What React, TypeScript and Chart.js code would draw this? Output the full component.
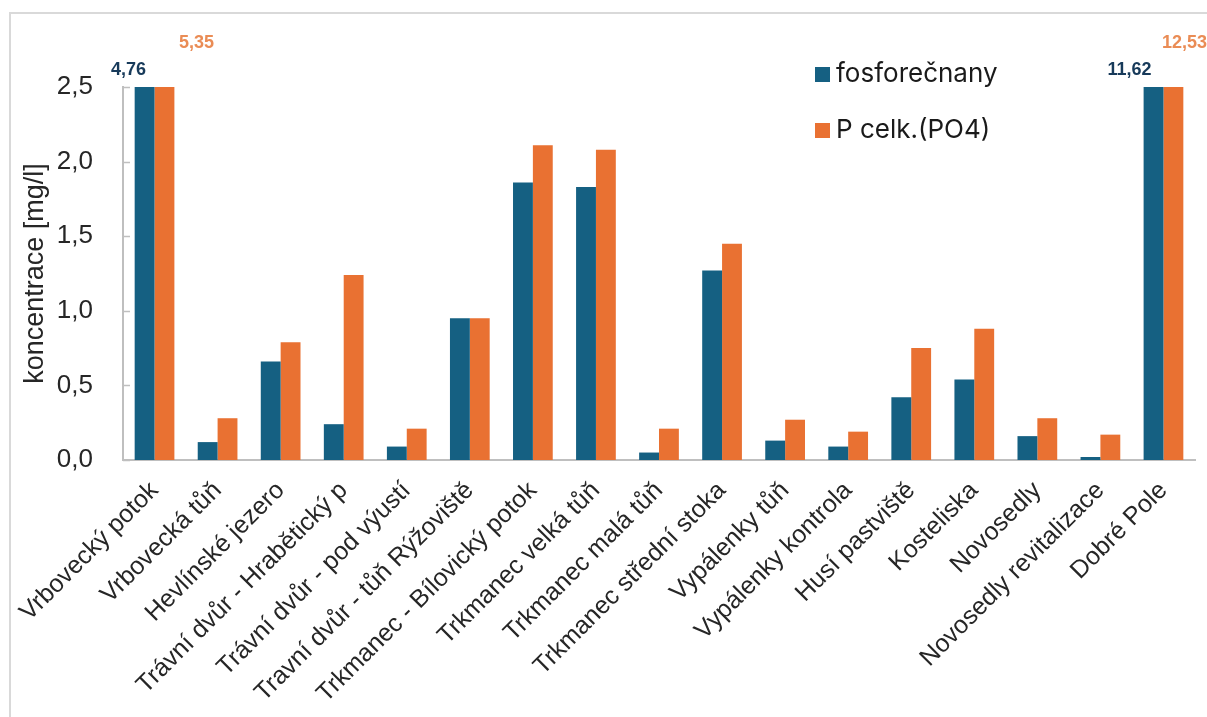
import { useEffect, useRef } from "react";
import { Chart, registerables } from "chart.js";

Chart.register(...registerables);

const categories = [
  "Vrbovecký potok",
  "Vrbovecká tůň",
  "Hevlínské jezero",
  "Trávní dvůr - Hrabětický p",
  "Trávní dvůr - pod výustí",
  "Travní dvůr - tůň Rýžoviště",
  "Trkmanec - Bílovický potok",
  "Trkmanec velká tůň",
  "Trkmanec malá tůň",
  "Trkmanec střední stoka",
  "Vypálenky tůň",
  "Vypálenky kontrola",
  "Husí pastviště",
  "Kosteliska",
  "Novosedly",
  "Novosedly revitalizace",
  "Dobré Pole",
];

const fosforecnany = [4.76, 0.12, 0.66, 0.24, 0.09, 0.95, 1.86, 1.83, 0.05, 1.27, 0.13, 0.09, 0.42, 0.54, 0.16, 0.02, 11.62];
const pCelk = [5.35, 0.28, 0.79, 1.24, 0.21, 0.95, 2.11, 2.08, 0.21, 1.45, 0.27, 0.19, 0.75, 0.88, 0.28, 0.17, 12.53];

const seriesNames = ["fosforečnany", "P celk.(PO4)"];
const seriesColors = ["#156082", "#E97132"];
const labelColors = ["#173A5A", "#EA8C55"];

const yMin = 0;
const yMax = 2.5;
const yStep = 0.5;

const AXIS_FONT = '"Liberation Sans", Arial, sans-serif';
const LEGEND_FONT = 'Inter, "Noto Sans", sans-serif';

// manual offsets (dx, dy from top of plot) for the out-of-range value labels
const labelOffsets: Record<string, [number, number]> = {
  "0-0": [-16, -17],
  "1-0": [32, -44],
  "0-16": [-24, -17],
  "1-16": [11, -44],
};

const fmt = (v: number, d: number) => v.toFixed(d).replace(".", ",");

const overflowLabels = {
  id: "overflowLabels",
  afterDatasetsDraw(chart: any) {
    const ctx = chart.ctx;
    const top = chart.chartArea.top;
    ctx.save();
    ctx.font = `bold 18px ${AXIS_FONT}`;
    ctx.textAlign = "center";
    ctx.textBaseline = "middle";
    chart.data.datasets.forEach((ds: any, di: number) => {
      const meta = chart.getDatasetMeta(di);
      ds.data.forEach((v: number, i: number) => {
        if (v > yMax) {
          const el = meta.data[i];
          const off = labelOffsets[`${di}-${i}`] || [0, -17];
          ctx.fillStyle = labelColors[di];
          ctx.fillText(fmt(v, 2), el.x + off[0], top + off[1]);
        }
      });
    });
    ctx.restore();
  },
};

const innerTicks = {
  id: "innerTicks",
  afterDraw(chart: any) {
    const y = chart.scales.y;
    const ctx = chart.ctx;
    ctx.save();
    ctx.strokeStyle = "#bfbfbf";
    ctx.lineWidth = 1.5;
    y.ticks.forEach((t: any) => {
      const py = Math.round(y.getPixelForValue(t.value)) + 0.5;
      ctx.beginPath();
      ctx.moveTo(y.right, py);
      ctx.lineTo(y.right + 7, py);
      ctx.stroke();
    });
    ctx.restore();
  },
};

const customLegend = {
  id: "customLegend",
  afterDraw(chart: any) {
    const ctx = chart.ctx;
    const x = 815;
    const ys = [74, 130];
    ctx.save();
    ctx.font = `26px ${LEGEND_FONT}`;
    ctx.textBaseline = "middle";
    ctx.textAlign = "left";
    seriesNames.forEach((name, i) => {
      ctx.fillStyle = seriesColors[i];
      ctx.fillRect(x, ys[i] - 7, 15, 15);
      ctx.fillStyle = "#1a1a1a";
      ctx.fillText(name, x + 21, ys[i]);
    });
    ctx.restore();
  },
};

export default function App() {
  const ref = useRef<HTMLCanvasElement>(null);

  useEffect(() => {
    document.body.style.margin = "0";
    const chart = new Chart(ref.current!, {
      type: "bar",
      data: {
        labels: categories,
        datasets: [
          {
            label: seriesNames[0],
            data: fosforecnany,
            backgroundColor: seriesColors[0],
            categoryPercentage: 0.63,
            barPercentage: 1.0,
            clip: 0,
          },
          {
            label: seriesNames[1],
            data: pCelk,
            backgroundColor: seriesColors[1],
            categoryPercentage: 0.63,
            barPercentage: 1.0,
            clip: 0,
          },
        ],
      },
      options: {
        animation: false,
        responsive: false,
        devicePixelRatio: 1,
        layout: { padding: { top: 87, right: 12, left: 0, bottom: 0 } },
        plugins: {
          legend: { display: false },
          tooltip: { enabled: false },
          title: { display: false },
        },
        scales: {
          x: {
            grid: { display: false },
            border: { color: "#bfbfbf", width: 2 },
            ticks: {
              autoSkip: false,
              maxRotation: 45,
              minRotation: 45,
              font: { family: AXIS_FONT, size: 25 },
              color: "#262626",
              padding: 8,
            },
            afterFit: (s: any) => {
              s.height = 257;
            },
          },
          y: {
            min: yMin,
            max: yMax,
            grid: { display: false },
            border: { color: "#bfbfbf", width: 2 },
            ticks: {
              stepSize: yStep,
              callback: (v: any) => fmt(Number(v), 1),
              font: { family: AXIS_FONT, size: 26 },
              color: "#262626",
              padding: 22,
            },
            title: {
              display: true,
              text: "koncentrace [mg/l]",
              font: { family: AXIS_FONT, size: 27 },
              color: "#262626",
              padding: { top: 19, bottom: 0 },
            },
            afterFit: (s: any) => {
              s.width = 123;
            },
          },
        },
      },
      plugins: [overflowLabels, innerTicks, customLegend],
    } as any);
    return () => chart.destroy();
  }, []);

  return (
    <div style={{ position: "relative", width: 1207, height: 717, background: "#fff", overflow: "hidden" }}>
      <div
        style={{
          position: "absolute",
          left: 9,
          top: 12,
          width: 1300,
          height: 800,
          borderTop: "2px solid #d9d9d9",
          borderLeft: "2px solid #d9d9d9",
        }}
      />
      <canvas ref={ref} width={1207} height={717} style={{ position: "absolute", left: 0, top: 0 }} />
    </div>
  );
}
